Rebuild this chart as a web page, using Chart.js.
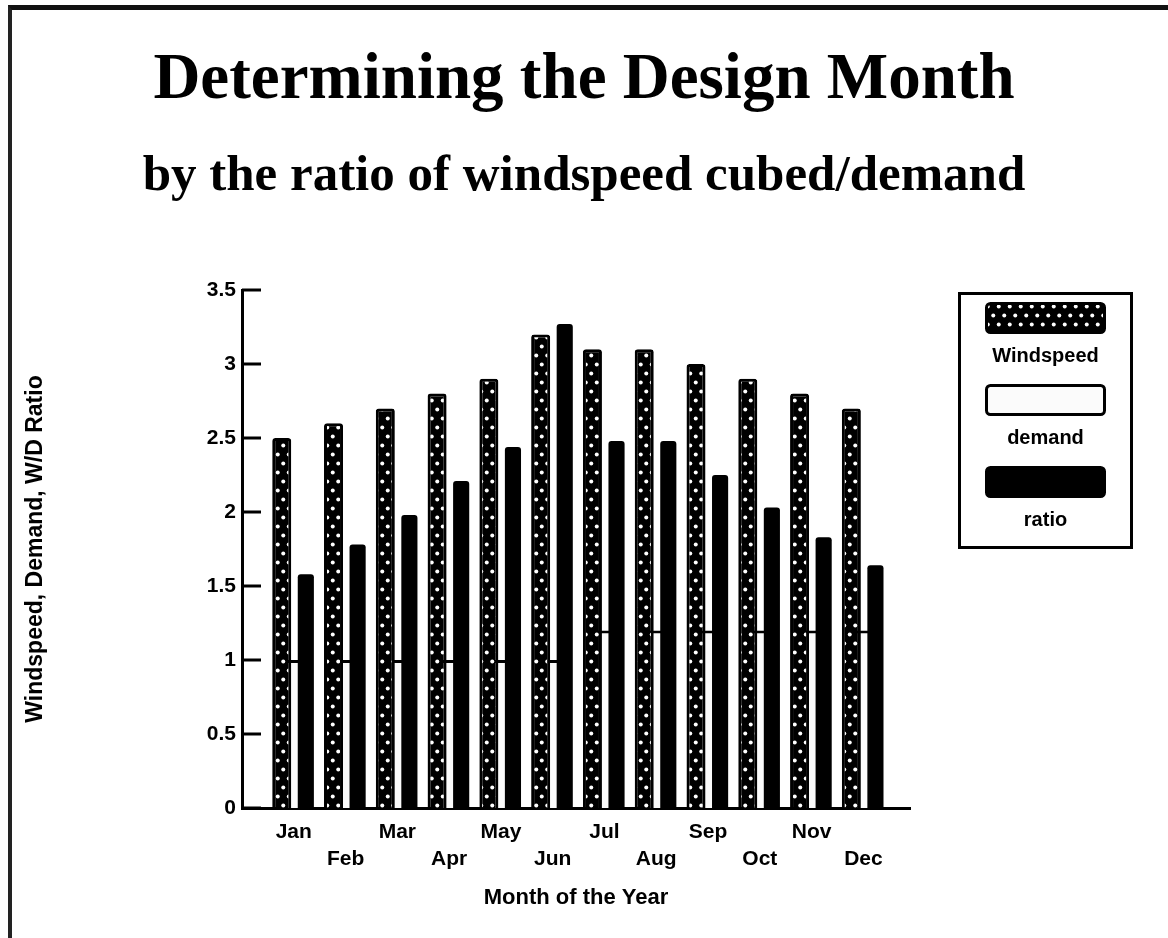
<!DOCTYPE html>
<html>
<head>
<meta charset="utf-8">
<title>Determining the Design Month</title>
<script src="https://cdn.jsdelivr.net/npm/chart.js@4.4.1/dist/chart.umd.min.js"></script>
<style>
  html, body { margin: 0; padding: 0; background: #fff; }
  #wrap { position: relative; width: 1168px; height: 938px; overflow: hidden; }
  #frame {
    position: absolute; left: 8px; top: 5px; right: -20px; bottom: -20px;
    border-top: 5px solid #111; border-left: 4px solid #222; pointer-events: none;
  }
  #legend {
    position: absolute; left: 958px; top: 292px; width: 169px; height: 244px;
    border: 3px solid #000; padding-top: 7px; box-sizing: content-box;
    font: bold 20px "Liberation Sans", Arial, sans-serif; color: #000; text-align: center;
  }
  #legend .item { margin-bottom: 8px; }
  #legend canvas { display: block; margin: 0 auto; }
  #legend .lbl { line-height: 42px; height: 42px; }
</style>
</head>
<body>
<div id="wrap">
  <canvas id="chart" width="1168" height="938"></canvas>
  <div id="legend"></div>
  <div id="frame"></div>
</div>
<script>
const months = ["Jan", "Feb", "Mar", "Apr", "May", "Jun", "Jul", "Aug", "Sep", "Oct", "Nov", "Dec"];
const windspeed = [2.5, 2.6, 2.7, 2.8, 2.9, 3.2, 3.1, 3.1, 3.0, 2.9, 2.8, 2.7];
const demand = [1.0, 1.0, 1.0, 1.0, 1.0, 1.0, 1.2, 1.2, 1.2, 1.2, 1.2, 1.2];
const ratio = [1.58, 1.78, 1.98, 2.21, 2.44, 3.27, 2.48, 2.48, 2.25, 2.03, 1.83, 1.64];
const yTicks = [0, 0.5, 1, 1.5, 2, 2.5, 3, 3.5];

const sansFont = '"Liberation Sans", Arial, sans-serif';
const serifFont = '"Liberation Serif", "Times New Roman", serif';

// black fill with staggered white dots
function dotPattern() {
  const tile = document.createElement('canvas');
  tile.width = 11; tile.height = 18;
  const t = tile.getContext('2d');
  t.fillStyle = '#000';
  t.fillRect(0, 0, 11, 18);
  t.fillStyle = '#fff';
  [[2.75, 4.5], [8.25, 13.5]].forEach(([x, y]) => {
    t.beginPath(); t.arc(x, y, 2, 0, Math.PI * 2); t.fill();
  });
  return t.createPattern(tile, 'repeat');
}

const toPoints = vals => vals.map((v, i) => ({ x: i + 1, y: v }));

// y ticks drawn inward from the axis
const innerTicks = {
  id: 'innerTicks',
  afterDraw(chart) {
    const { ctx, chartArea } = chart;
    const y = chart.scales.y;
    ctx.save();
    ctx.strokeStyle = '#000';
    ctx.lineWidth = 3;
    yTicks.forEach(v => {
      const py = y.getPixelForValue(v);
      ctx.beginPath();
      ctx.moveTo(chartArea.left, py);
      ctx.lineTo(chartArea.left + 19, py);
      ctx.stroke();
    });
    ctx.restore();
  }
};

// boxed legend: swatch above its label
const htmlLegend = {
  id: 'htmlLegend',
  afterUpdate(chart) {
    const box = document.getElementById('legend');
    box.innerHTML = '';
    chart.data.datasets.forEach(ds => {
      const item = document.createElement('div');
      item.className = 'item';
      const sw = document.createElement('canvas');
      sw.width = 121; sw.height = 32;
      const c = sw.getContext('2d');
      c.fillStyle = ds.backgroundColor;
      c.strokeStyle = '#000';
      c.lineWidth = 3;
      c.beginPath();
      c.roundRect(1.5, 1.5, sw.width - 3, sw.height - 3, 4);
      c.fill();
      c.stroke();
      const lbl = document.createElement('div');
      lbl.className = 'lbl';
      lbl.textContent = ds.label;
      item.appendChild(sw);
      item.appendChild(lbl);
      box.appendChild(item);
    });
  }
};

new Chart(document.getElementById('chart'), {
  type: 'bar',
  data: {
    datasets: [
      {
        label: 'Windspeed',
        data: toPoints(windspeed),
        backgroundColor: dotPattern(),
        borderColor: '#000',
        borderWidth: 3,
        borderRadius: 3,
        categoryPercentage: 0.93,
        barPercentage: 0.79,
        order: 1
      },
      {
        label: 'demand',
        data: toPoints(demand),
        backgroundColor: '#fbfbfb',
        borderColor: '#000',
        borderWidth: { top: 3, right: 0, bottom: 0, left: 0 },
        borderSkipped: false,
        grouped: false,
        categoryPercentage: 0.93,
        barPercentage: 0.5,
        order: 3
      },
      {
        label: 'ratio',
        data: toPoints(ratio),
        backgroundColor: '#000',
        borderColor: '#000',
        borderWidth: 0,
        borderRadius: 3,
        categoryPercentage: 0.93,
        barPercentage: 0.67,
        order: 1
      }
    ]
  },
  options: {
    responsive: false,
    animation: false,
    layout: { padding: 0 },
    plugins: {
      legend: { display: false },
      tooltip: { enabled: false },
      title: {
        display: true,
        text: 'Determining the Design Month',
        color: '#000',
        font: { family: serifFont, size: 65, weight: 'bold', lineHeight: 1 },
        padding: { top: 49, bottom: 0 }
      },
      subtitle: {
        display: true,
        text: 'by the ratio of windspeed cubed/demand',
        color: '#000',
        font: { family: serifFont, size: 51, weight: 'bold', lineHeight: 1 },
        padding: { top: 37, bottom: 88 }
      }
    },
    scales: {
      x: {
        type: 'linear',
        min: 0,
        max: 12.9,
        offset: false,
        border: { color: '#000', width: 3 },
        grid: { display: false, offset: false, drawTicks: false },
        ticks: {
          stepSize: 1,
          includeBounds: false,
          autoSkip: false,
          maxRotation: 0,
          padding: 11,
          color: '#000',
          font: { family: sansFont, size: 21, weight: 'bold', lineHeight: 1.29 },
          callback: v => (Number.isInteger(v) && v >= 1 && v <= 12)
            ? (v % 2 ? [months[v - 1]] : ['', months[v - 1]])
            : ''
        },
        title: {
          display: true,
          text: 'Month of the Year',
          color: '#000',
          font: { family: sansFont, size: 22, weight: 'bold' },
          padding: { top: 0, bottom: 27 }
        },
        afterFit: s => { s.height = 130; }
      },
      y: {
        min: 0,
        max: 3.5,
        border: { color: '#000', width: 3 },
        grid: { display: false, drawTicks: false },
        afterBuildTicks: s => { s.ticks = yTicks.map(v => ({ value: v })); },
        ticks: {
          padding: 6,
          color: '#000',
          font: { family: sansFont, size: 21, weight: 'bold' },
          callback: v => String(v)
        },
        title: {
          display: true,
          text: 'Windspeed, Demand, W/D Ratio',
          color: '#000',
          font: { family: sansFont, size: 23, weight: 'bold' },
          padding: { top: 22, bottom: 22 }
        },
        afterFit: s => { s.width = 242; }
      },
      // empty right-hand axis: keeps room for the legend box while titles stay centred on the page
      legendSpace: {
        type: 'linear',
        position: 'right',
        display: true,
        grid: { display: false, drawTicks: false },
        border: { display: false },
        ticks: { display: false },
        afterFit: s => { s.width = 258; }
      }
    }
  },
  plugins: [innerTicks, htmlLegend]
});
</script>
</body>
</html>
